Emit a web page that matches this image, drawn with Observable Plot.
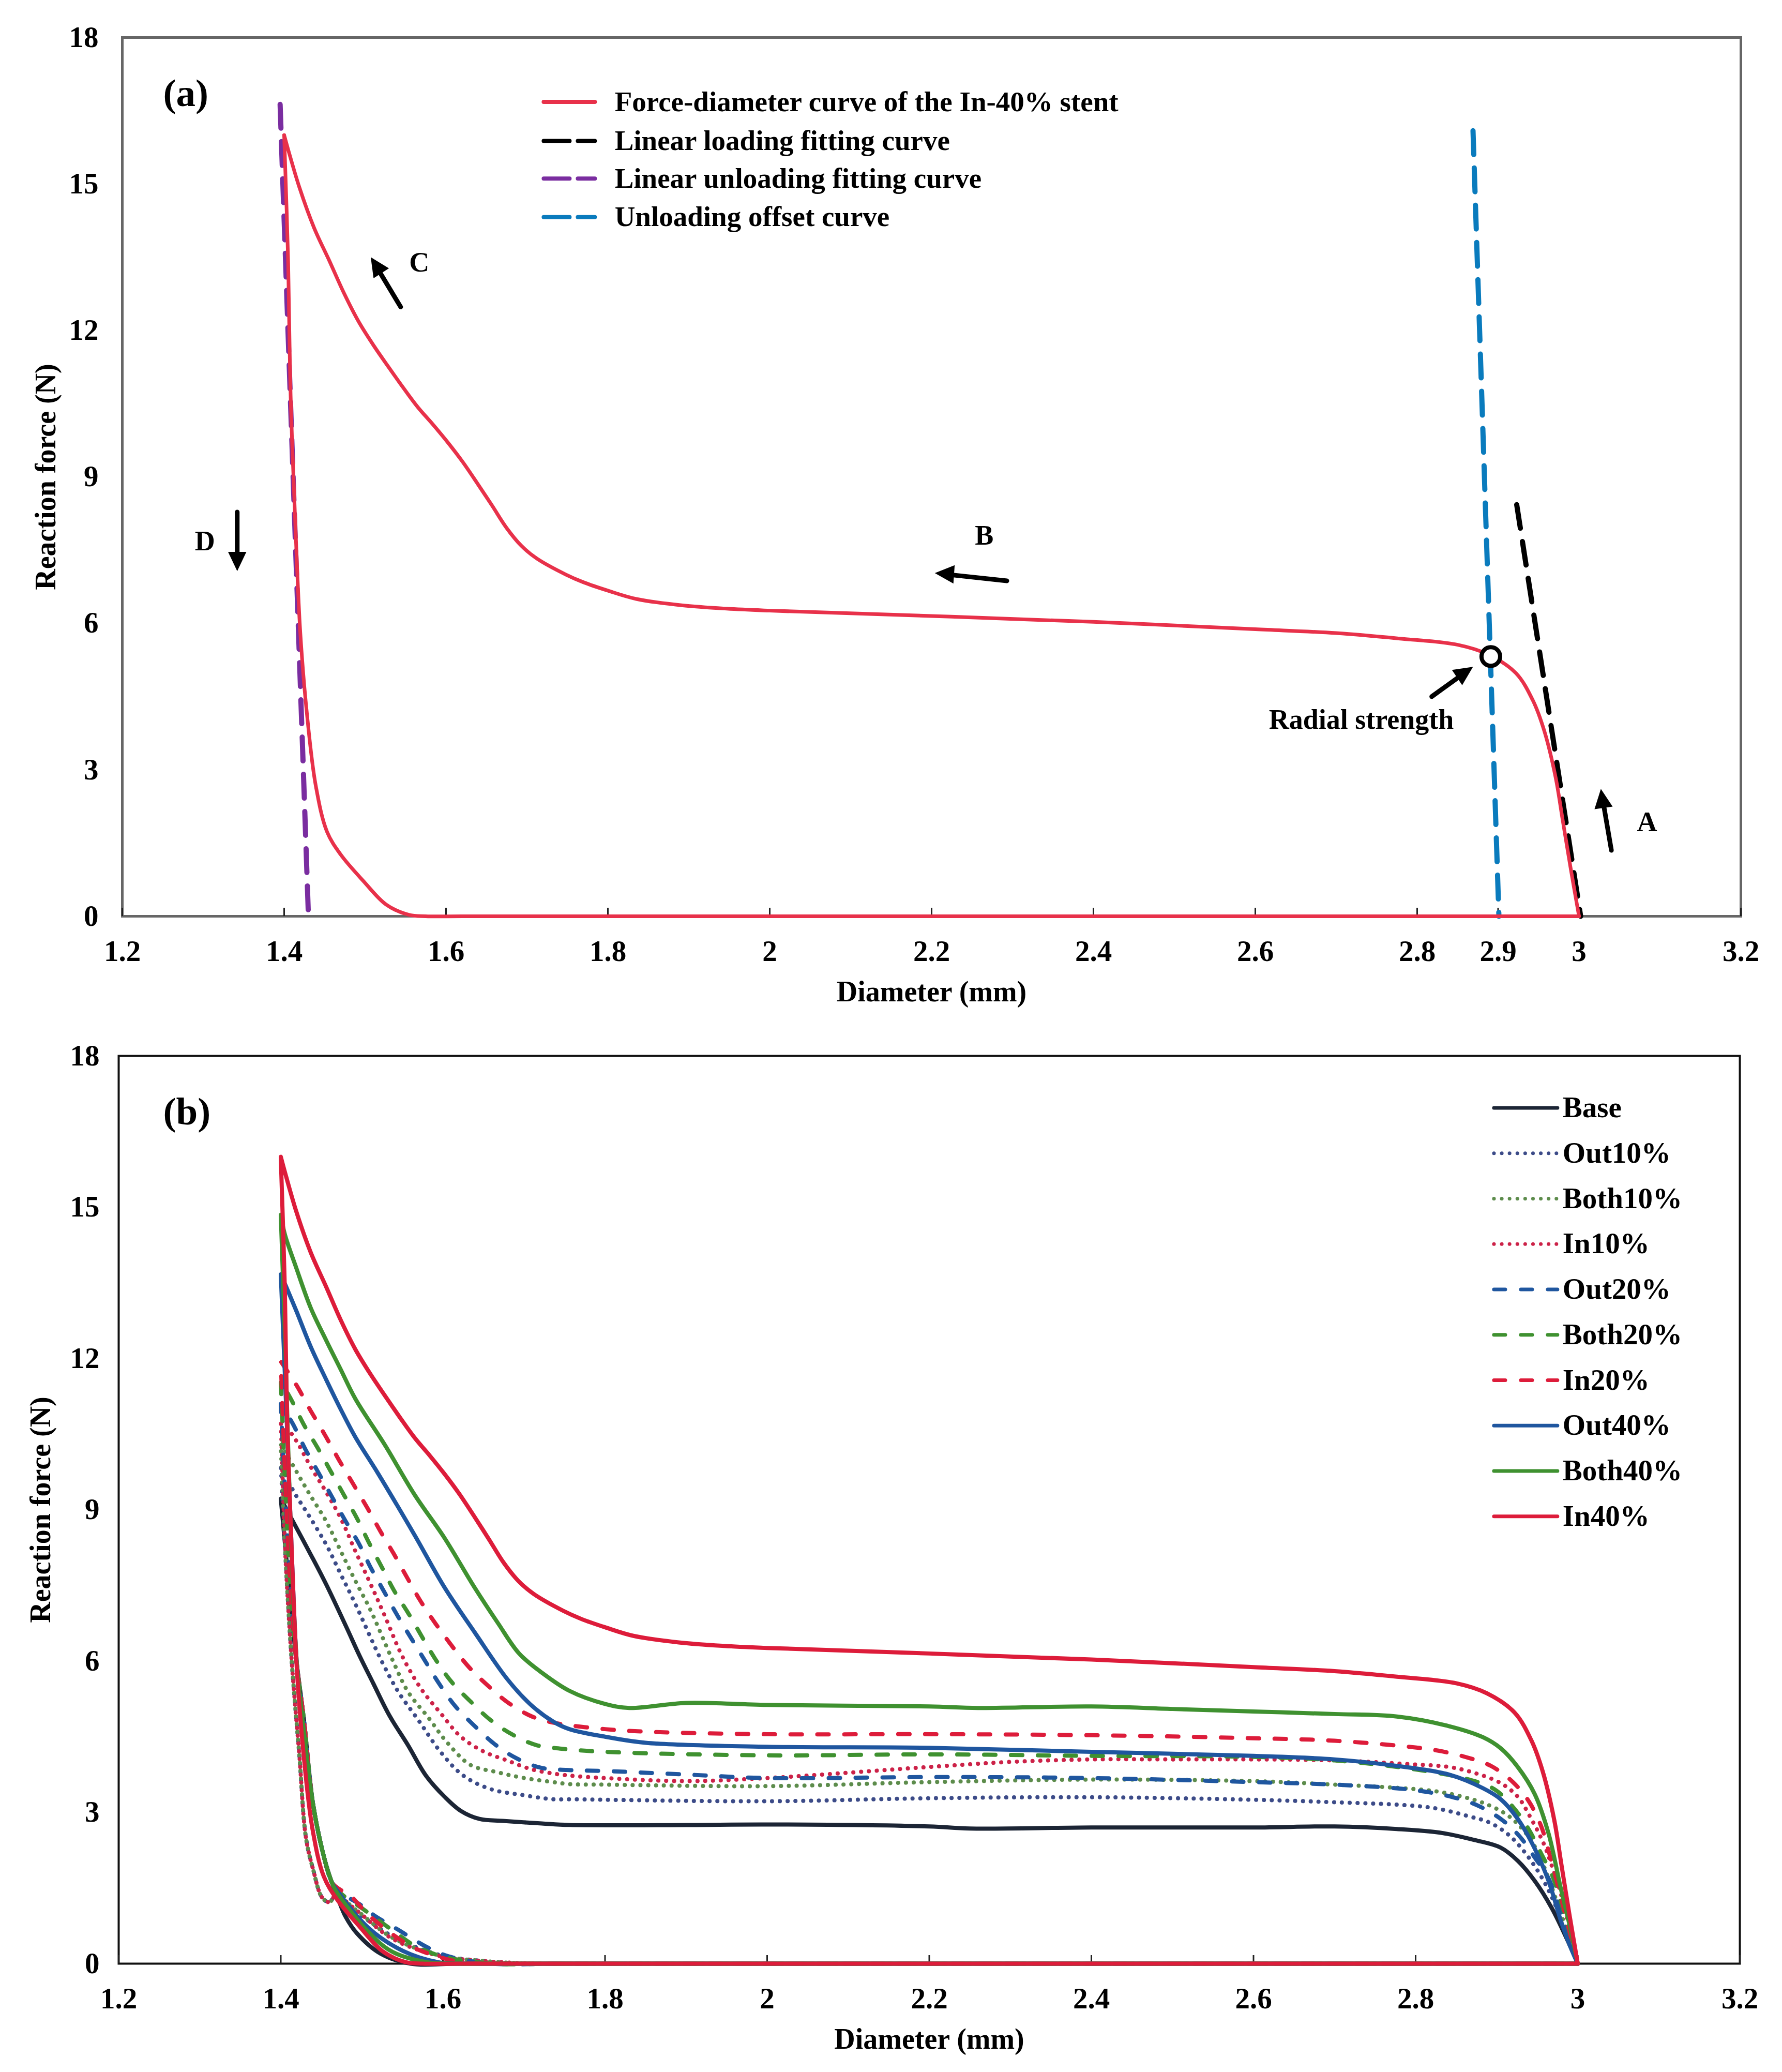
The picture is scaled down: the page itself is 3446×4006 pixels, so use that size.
<!DOCTYPE html>
<html><head><meta charset="utf-8">
<script src="https://cdn.jsdelivr.net/npm/d3@7"></script>
<script src="https://cdn.jsdelivr.net/npm/@observablehq/plot@0.6"></script>
<style>html,body{margin:0;padding:0;background:#fff}svg{display:block}</style>
</head><body><div id="a"></div><div id="b"></div>
<script>
const FONT = "'Liberation Serif','Times New Roman',serif";
const ticksA = [1.2,1.4,1.6,1.8,2,2.2,2.4,2.6,2.8,2.9,3,3.2];
const ticksB = [1.2,1.4,1.6,1.8,2,2.2,2.4,2.6,2.8,3,3.2];
const ticksY = [0,3,6,9,12,15,18];

// [diameter, force]: loading (3 -> 1.4), then unloading (1.4 -> 3)
const zeroTail = [[1.74,0],[1.8,0],[2,0],[2.5,0],[2.95,0],[3,0]];
const in40Load = [[3,0],[2.99,.95],[2.98,1.95],[2.971,2.85],[2.957,3.8],[2.943,4.42],[2.922,4.98],[2.888,5.36],[2.85,5.56],[2.777,5.69],[2.7,5.8],[2.6,5.88],[2.4,6.03],[2.2,6.15],[2,6.26],[1.947,6.3],[1.891,6.37],[1.835,6.5],[1.8,6.67],[1.77,6.84],[1.748,7],[1.712,7.33],[1.693,7.59],[1.675,7.95],[1.657,8.41],[1.639,8.86],[1.62,9.32],[1.602,9.71],[1.584,10.07],[1.565,10.43],[1.547,10.83],[1.529,11.25],[1.511,11.68],[1.492,12.18],[1.474,12.76],[1.456,13.42],[1.437,14.1],[1.419,14.92],[1.405,15.7],[1.4,16]];
const in40Unload = [[1.4,16],[1.405,13.36],[1.408,10.66],[1.414,7.95],[1.42,5.79],[1.428,4.17],[1.439,2.68],[1.453,1.73],[1.47,1.26],[1.498,.72],[1.526,.24],[1.554,.03],[1.575,0],[1.62,0]];
const baseLoad = [[3,0],[2.99,.37],[2.968,1.1],[2.947,1.64],[2.926,2.04],[2.905,2.3],[2.873,2.45],[2.829,2.6],[2.777,2.67],[2.7,2.72],[2.6,2.7],[2.4,2.7],[2.25,2.68],[2.2,2.72],[2,2.76],[1.9,2.75],[1.756,2.75],[1.722,2.78],[1.674,2.83],[1.645,2.87],[1.622,3.03],[1.602,3.31],[1.579,3.73],[1.557,4.33],[1.534,4.92],[1.514,5.56],[1.497,6.11],[1.481,6.67],[1.456,7.52],[1.437,8.11],[1.415,8.77],[1.4,9.22]];
const baseUnload = [[1.4,9.22],[1.41,7.5],[1.4185,6.11],[1.4285,4.84],[1.44,3.14],[1.454,2.07],[1.463,1.61],[1.471,1.27],[1.48,.93],[1.494,.6],[1.523,.2],[1.56,0],[1.62,0]];
const out10Load = [[3,0],[2.979,.91],[2.958,1.64],[2.936,2.18],[2.915,2.55],[2.891,2.8],[2.866,2.92],[2.828,3.07],[2.79,3.14],[2.7,3.2],[2.6,3.25],[2.4,3.3],[2.2,3.28],[2,3.22],[1.8,3.25],[1.756,3.26],[1.736,3.26],[1.696,3.35],[1.659,3.46],[1.625,3.73],[1.597,4.2],[1.571,4.8],[1.545,5.39],[1.525,5.98],[1.492,7.13],[1.474,7.72],[1.456,8.31],[1.434,8.9],[1.415,9.39],[1.4,9.9]];
const out10Unload = [[1.4,9.9],[1.406,8],[1.413,6.11],[1.417,5.26],[1.423,4.11],[1.431,2.5],[1.44,1.86],[1.451,1.31],[1.46,1.22],[1.468,1.35],[1.494,1.02],[1.537,.55],[1.594,.18],[1.651,.05],[1.7,0]];
const both10Load = [[3,0],[2.958,1.94],[2.943,2.43],[2.926,2.77],[2.909,2.99],[2.883,3.19],[2.858,3.31],[2.828,3.41],[2.792,3.47],[2.7,3.55],[2.6,3.62],[2.4,3.65],[2.2,3.6],[2,3.52],[1.8,3.55],[1.756,3.56],[1.736,3.6],[1.697,3.69],[1.666,3.8],[1.634,3.94],[1.605,4.39],[1.582,4.88],[1.557,5.39],[1.537,6.05],[1.511,7],[1.492,7.59],[1.474,8.18],[1.456,8.77],[1.434,9.35],[1.415,9.88],[1.4,10.3]];
const both10Unload = [[1.4,10.3],[1.406,8],[1.413,6.11],[1.417,5.26],[1.423,4.11],[1.431,2.5],[1.44,1.86],[1.451,1.31],[1.46,1.22],[1.468,1.35],[1.494,1.05],[1.537,.52],[1.594,.17],[1.651,.05],[1.71,0]];
const in10Load = [[3,0],[2.979,1.4],[2.968,1.94],[2.958,2.38],[2.941,2.92],[2.926,3.31],[2.905,3.58],[2.873,3.78],[2.841,3.9],[2.798,3.95],[2.7,4.03],[2.6,4.05],[2.5,4.05],[2.4,4.05],[2.3,4],[2.2,3.9],[2,3.68],[1.9,3.62],[1.8,3.68],[1.756,3.73],[1.736,3.77],[1.708,3.86],[1.679,4.03],[1.651,4.2],[1.622,4.5],[1.597,4.97],[1.574,5.43],[1.55,6.09],[1.529,6.87],[1.511,7.52],[1.492,8.18],[1.474,8.83],[1.456,9.35],[1.437,9.85],[1.419,10.37],[1.4,10.8]];
const in10Unload = [[1.4,10.8],[1.406,8],[1.413,6.11],[1.417,5.26],[1.423,4.11],[1.431,2.5],[1.44,1.86],[1.451,1.31],[1.46,1.22],[1.468,1.35],[1.494,1.05],[1.537,.5],[1.594,.16],[1.651,.05],[1.72,0]];
const out20Load = [[3,0],[2.964,1.69],[2.948,2.08],[2.928,2.53],[2.905,2.87],[2.876,3.14],[2.844,3.31],[2.812,3.41],[2.782,3.47],[2.7,3.55],[2.6,3.6],[2.4,3.68],[2.2,3.7],[2,3.68],[1.9,3.75],[1.8,3.82],[1.753,3.84],[1.722,3.88],[1.691,4.07],[1.664,4.35],[1.638,4.73],[1.615,5.11],[1.595,5.56],[1.577,6.03],[1.544,6.9],[1.527,7.39],[1.511,7.85],[1.496,8.34],[1.479,8.8],[1.463,9.26],[1.446,9.75],[1.43,10.21],[1.415,10.7],[1.4,11.1]];
const out20Unload = [[1.4,11.1],[1.41,8],[1.4185,6.11],[1.4285,4.84],[1.44,3.14],[1.454,2.07],[1.463,1.61],[1.475,1.4],[1.5,1.15],[1.514,.97],[1.545,.67],[1.58,.33],[1.608,.14],[1.66,0]];
const both20Load = [[3,0],[2.97,1.69],[2.955,2.18],[2.94,2.65],[2.921,3.09],[2.897,3.46],[2.866,3.65],[2.8,3.85],[2.7,4.03],[2.6,4.1],[2.4,4.12],[2.2,4.15],[2,4.13],[1.8,4.2],[1.748,4.26],[1.716,4.33],[1.686,4.54],[1.658,4.84],[1.634,5.2],[1.611,5.58],[1.591,6.03],[1.558,6.93],[1.54,7.39],[1.525,7.85],[1.509,8.34],[1.494,8.83],[1.478,9.29],[1.461,9.78],[1.445,10.24],[1.428,10.7],[1.414,11.15],[1.4,11.55]];
const both20Unload = [[1.4,11.55],[1.41,8],[1.4185,6.11],[1.4285,4.84],[1.44,3.14],[1.454,2.07],[1.463,1.61],[1.475,1.38],[1.5,1.1],[1.537,.67],[1.565,.36],[1.6,.14],[1.66,0]];
const in20Load = [[3,0],[2.974,1.64],[2.965,2.18],[2.955,2.72],[2.94,3.21],[2.92,3.6],[2.893,3.92],[2.861,4.1],[2.829,4.22],[2.798,4.29],[2.7,4.42],[2.6,4.47],[2.4,4.53],[2.2,4.55],[2,4.55],[1.85,4.6],[1.8,4.65],[1.739,4.77],[1.71,4.9],[1.68,5.18],[1.655,5.52],[1.631,5.9],[1.591,6.74],[1.572,7.2],[1.556,7.65],[1.54,8.11],[1.523,8.57],[1.507,9.03],[1.489,9.52],[1.472,9.98],[1.456,10.44],[1.437,10.96],[1.419,11.48],[1.4,11.94]];
const in20Unload = [[1.4,11.94],[1.41,8],[1.4185,6.11],[1.4285,4.84],[1.44,3.14],[1.454,2.07],[1.463,1.61],[1.475,1.45],[1.483,1.39],[1.508,.97],[1.537,.59],[1.565,.31],[1.594,.14],[1.622,.03],[1.66,0]];
const out40Load = [[3,0],[2.99,.37],[2.979,.86],[2.964,1.64],[2.947,2.28],[2.926,2.87],[2.905,3.26],[2.883,3.48],[2.841,3.75],[2.777,3.92],[2.7,4.05],[2.6,4.12],[2.4,4.2],[2.2,4.28],[2,4.3],[1.85,4.38],[1.8,4.5],[1.756,4.65],[1.736,4.8],[1.708,5.14],[1.679,5.65],[1.64,6.55],[1.602,7.46],[1.565,8.5],[1.52,9.72],[1.492,10.44],[1.474,10.99],[1.456,11.58],[1.437,12.23],[1.419,12.95],[1.407,13.41],[1.4,13.67]];
const out40Unload = [[1.4,13.67],[1.408,10.5],[1.414,7.95],[1.42,5.9],[1.4285,4.6],[1.44,3.14],[1.454,2.07],[1.463,1.61],[1.468,1.48],[1.508,.71],[1.551,.25],[1.594,.03],[1.64,0]];
const both40Load = [[3,0],[2.99,.76],[2.979,1.5],[2.964,2.58],[2.947,3.36],[2.926,3.9],[2.905,4.27],[2.883,4.49],[2.841,4.71],[2.777,4.9],[2.7,4.95],[2.6,5],[2.5,5.05],[2.4,5.1],[2.26,5.07],[2.2,5.1],[2,5.13],[1.9,5.17],[1.83,5.07],[1.8,5.15],[1.756,5.41],[1.722,5.77],[1.694,6.15],[1.668,6.75],[1.639,7.46],[1.602,8.44],[1.565,9.3],[1.529,10.27],[1.492,11.2],[1.474,11.78],[1.456,12.36],[1.437,13],[1.419,13.8],[1.405,14.46],[1.4,14.85]];
const both40Unload = [[1.4,14.85],[1.406,12],[1.413,8.2],[1.42,5.9],[1.4285,4.6],[1.44,3.14],[1.454,2.07],[1.463,1.61],[1.468,1.44],[1.508,.63],[1.537,.24],[1.58,.03],[1.62,0],[1.66,0]];

const seriesNames = ["Base","Out10%","Both10%","In10%","Out20%","Both20%","In20%","Out40%","Both40%","In40%"];
const seriesData = [[baseLoad,baseUnload],[out10Load,out10Unload],[both10Load,both10Unload],[in10Load,in10Unload],[out20Load,out20Unload],[both20Load,both20Unload],[in20Load,in20Unload],[out40Load,out40Unload],[both40Load,both40Unload],[in40Load,in40Unload]].map(([l,u])=>l.concat(u,zeroTail));
const seriesColors = ["#1c2535","#3c4b88","#5d8c4c","#cc2248","#1f569f","#3f9130","#dd1c3a","#1f569f","#3f9130","#dd1c3a"];
const DOT="0.1 15", DASH="22 30", SOLID="none";
const seriesDash = [SOLID,DOT,DOT,DOT,DASH,DASH,DASH,SOLID,SOLID,SOLID];

// fitting lines panel (a): [diameter, force]
const loadingFit = [[2.923,8.43],[3.002,0]];
const unloadingFit = [[1.395,16.63],[1.43,0]];
const offsetFit = [[2.869,16.09],[2.901,0]];
const radialPoint = [[2.891,5.32]];
const arrowsA = [
  {x1:3.04,y1:1.35,x2:3.027,y2:2.61,angle:-8},
  {x1:2.293,y1:6.87,x2:2.204,y2:7.03,angle:-86},
  {x1:1.544,y1:12.48,x2:1.507,y2:13.5,angle:-33},
  {x1:1.342,y1:8.28,x2:1.342,y2:7.07,angle:180},
  {x1:2.818,y1:4.5,x2:2.869,y2:5.11,angle:56}
];
const notesA = [
  {x:3.084,y:1.93,t:"A"},{x:2.265,y:7.79,t:"B"},{x:1.567,y:13.39,t:"C"},{x:1.302,y:7.68,t:"D"},{x:2.731,y:4.02,t:"Radial strength"}
];
const legendA = ["Force-diameter curve of the In-40% stent","Linear loading fitting curve","Linear unloading fitting curve","Unloading offset curve"];
const legendAY = [16.68,15.88,15.11,14.32];
const legendAColors = ["#e8314a","#000000","#7a2da0","#0a7bbd"];
const legendAX = [1.7207,1.7839,1.8084];
const legendBX = [2.8966,2.975,2.9814];
const legendBY = [16.97,16.07,15.17,14.27,13.37,12.47,11.57,10.67,9.77,8.87];

// filled arrow head whose tip sits on the dot's position
const arrowHead = {draw(ctx,size){const s=Math.sqrt(size);ctx.moveTo(0,0);ctx.lineTo(-.5*s,1.05*s);ctx.lineTo(.5*s,1.05*s);ctx.closePath();}};

const pairsLine = (pts,o)=>Plot.line(pts,{x:d=>d[0],y:d=>d[1],...o});
function frameMarks(xTicks,yLabelDx,frameColor,frameWidth,tickPad){
  return [
    Plot.frame({stroke:frameColor,strokeWidth:frameWidth}),
    Plot.axisX(xTicks,{anchor:"bottom",tickSize:-16,tickPadding:tickPad,tickFormat:String,label:null,stroke:"#222",strokeWidth:3,fill:"#000",fontSize:57}),
    Plot.axisY(ticksY,{anchor:"left",tickSize:0,tickPadding:yLabelDx,tickFormat:String,label:null,fill:"#000",fontSize:57}),
  ];
}
const base = (mL,mR,mT,mB,h)=>({width:3446,height:h,marginLeft:mL,marginRight:mR,marginTop:mT,marginBottom:mB,
  x:{domain:[1.2,3.2]},y:{domain:[0,18]},
  style:{fontFamily:FONT,fontWeight:"bold",fontSize:"55px",background:"#fff",color:"#000"}});

const redA = legendAColors[0];
const fitDash = "46 26";
const plotA = Plot.plot({...base(236,80,72,229,2000),marks:[
  ...frameMarks(ticksA,46,"#666",5,62),
  pairsLine(offsetFit,{stroke:legendAColors[3],strokeWidth:10,strokeDasharray:fitDash}),
  pairsLine(loadingFit,{stroke:legendAColors[1],strokeWidth:10,strokeDasharray:fitDash}),
  pairsLine(unloadingFit,{stroke:legendAColors[2],strokeWidth:10,strokeDasharray:fitDash}),
  pairsLine(in40Load,{stroke:redA,strokeWidth:7,curve:"catmull-rom"}),
  pairsLine(in40Unload.concat(zeroTail),{stroke:redA,strokeWidth:7,curve:"catmull-rom"}),
  Plot.dot(radialPoint,{x:d=>d[0],y:d=>d[1],r:18,fill:"#fff",stroke:"#000",strokeWidth:8}),
  Plot.arrow(arrowsA,{x1:"x1",y1:"y1",x2:"x2",y2:"y2",stroke:"#000",strokeWidth:9,headLength:0,insetEnd:20}),
  Plot.dot(arrowsA,{x:"x2",y:"y2",rotate:"angle",symbol:arrowHead,r:20,fill:"#000",stroke:"none"}),
  Plot.text(notesA,{x:"x",y:"y",text:"t",fill:"#000",fontSize:54}),
  Plot.text(["(a)"],{frameAnchor:"top-left",dx:79,dy:108,text:d=>d,fontSize:75,fill:"#000",lineAnchor:"middle"}),
  ...legendA.map((t,i)=>Plot.line([[legendAX[0],legendAY[i]],[legendAX[1],legendAY[i]]],{x:d=>d[0],y:d=>d[1],stroke:legendAColors[i],strokeWidth:8,strokeDasharray:i?"50 16":"none"})),
  Plot.text(legendA,{x:()=>legendAX[2],y:(d,i)=>legendAY[i],text:d=>d,textAnchor:"start",fill:"#000",fontSize:55}),
  Plot.text(["Diameter (mm)"],{frameAnchor:"bottom",dy:147,text:d=>d,fill:"#000",fontSize:56,lineAnchor:"middle",textAnchor:"middle"}),
  Plot.text(["Reaction force (N)"],{frameAnchor:"left",dx:-147,rotate:-90,text:d=>d,fill:"#000",fontSize:56,lineAnchor:"middle",textAnchor:"middle"}),
]});

const plotB = Plot.plot({...base(229,82,41,210,2006),marks:[
  ...frameMarks(ticksB,37,"#111",4,62),
  ...seriesData.map((pts,i)=>pairsLine(pts,{stroke:seriesColors[i],strokeWidth:8,strokeDasharray:seriesDash[i],strokeLinecap:"round",curve:"catmull-rom"})),
  Plot.text(["(b)"],{frameAnchor:"top-left",dx:86,dy:108,text:d=>d,fontSize:75,fill:"#000",lineAnchor:"middle"}),
  ...seriesNames.map((t,i)=>Plot.line([[legendBX[0],legendBY[i]],[legendBX[1],legendBY[i]]],{x:d=>d[0],y:d=>d[1],stroke:seriesColors[i],strokeWidth:7,strokeDasharray:seriesDash[i],strokeLinecap:"round"})),
  Plot.text(seriesNames,{x:()=>legendBX[2],y:(d,i)=>legendBY[i],text:d=>d,textAnchor:"start",fill:"#000",fontSize:57}),
  Plot.text(["Diameter (mm)"],{frameAnchor:"bottom",dy:147,text:d=>d,fill:"#000",fontSize:56,lineAnchor:"middle",textAnchor:"middle"}),
  Plot.text(["Reaction force (N)"],{frameAnchor:"left",dx:-150,rotate:-90,text:d=>d,fill:"#000",fontSize:56,lineAnchor:"middle",textAnchor:"middle"}),
]});
document.getElementById("a").append(plotA);
document.getElementById("b").append(plotB);
</script></body></html>
